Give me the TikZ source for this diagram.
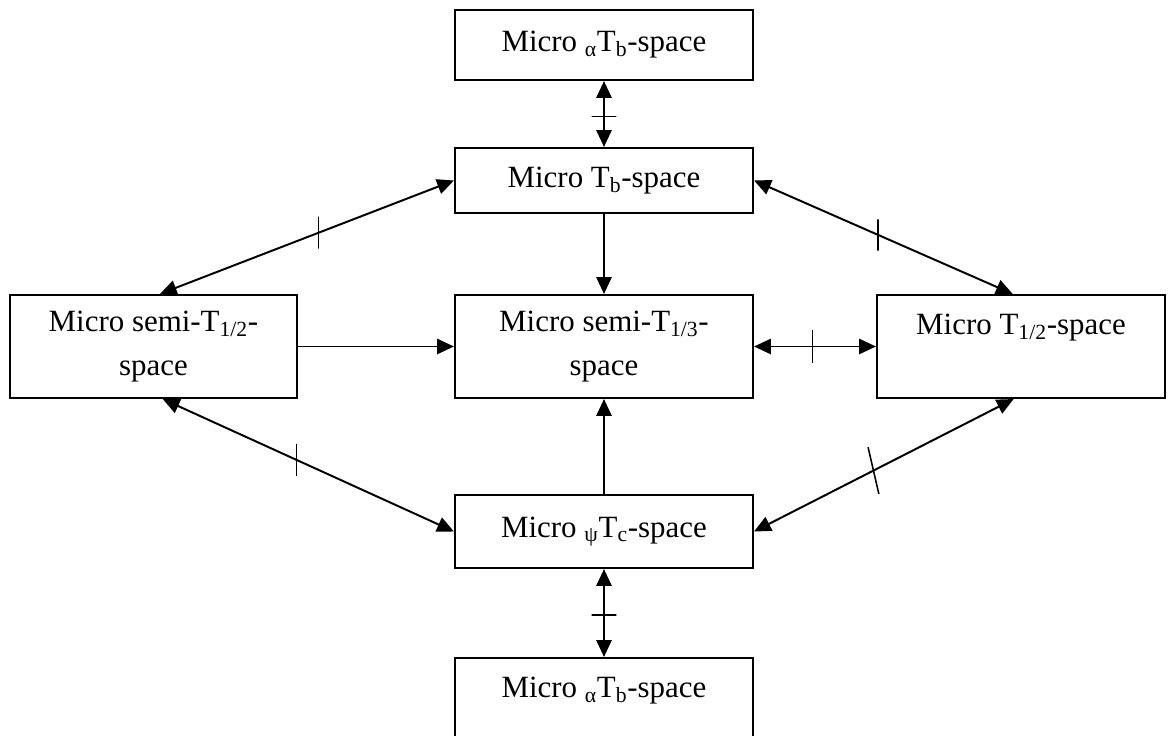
\documentclass[tikz,border=0pt]{standalone}
\usepackage{fontspec}
\setmainfont{Liberation Serif}
\usetikzlibrary{arrows.meta}

\begin{document}
\begin{tikzpicture}[font={\fontsize{22}{31}\selectfont},>={Triangle[length=4.2mm,width=3.8mm]},
  box/.style={draw,line width=1.5pt,align=center,inner sep=0pt,minimum width=7.45cm},
  conn/.style={line width=1.4pt},
  vtick/.style={draw,line width=1.1pt,inner sep=0pt,minimum width=0pt,minimum height=0.8cm},
  htick/.style={draw,line width=1.1pt,inner sep=0pt,minimum height=0pt,minimum width=0.62cm}]
  \useasboundingbox (0,0) rectangle (29.2,-18.4);
  \clip (0,0) rectangle (29.2,-18.4);

  % boxes
  \node[box,minimum height=1.75cm] (atb) at (15.1,-1.125)
    {Micro \textsubscript{α}T\textsubscript{b}-space};
  \node[box,minimum height=1.625cm] (tb) at (15.1,-4.5125)
    {Micro T\textsubscript{b}-space};
  \node[box,minimum width=7.175cm,minimum height=2.575cm] (semihalf) at (3.8375,-8.6625)
    {Micro semi-T\textsubscript{1/2}-\\space};
  \node[box,minimum height=2.575cm] (semithird) at (15.1,-8.6625)
    {Micro semi-T\textsubscript{1/3}-\\space};
  \node[box,minimum width=7.2cm,minimum height=2.575cm] (half) at (25.525,-8.6625)
    {Micro T\textsubscript{1/2}-space\\\mbox{}};
  \node[box,minimum height=1.825cm] (psitc) at (15.1,-13.2875)
    {Micro \textsubscript{ψ}T\textsubscript{c}-space};
  \node[box,minimum height=2.575cm] (atbb) at (15.1,-17.7375)
    {Micro \textsubscript{α}T\textsubscript{b}-space\\\mbox{}};

  % implications
  \draw[conn,->] (tb) -- (semithird);
  \draw[conn,->] (psitc) -- (semithird);
  \draw[conn,->] (semihalf) -- (semithird);

  % non-implications
  \draw[conn,<->] (atb) -- node[htick,pos=.54]{} (tb);
  \draw[conn,<->] (psitc) -- node[htick,pos=.52]{} (atbb);
  \draw[conn,<->] (semithird) -- node[vtick,pos=.48,minimum height=0.82cm]{} (half);
  \draw[conn,<->] (tb.west) -- node[vtick,pos=.46]{} (semihalf.83);
  \draw[conn,<->] (semihalf.-80) -- node[vtick,pos=.46]{} (psitc.west);
  \draw[conn,<->] (tb.east) -- node[vtick,pos=.48,minimum height=0.78cm]{} (half.99);
  \draw[conn,<->] (half.-98) -- node[vtick,pos=.54,rotate=13,minimum height=1.2cm]{} (psitc.east);
\end{tikzpicture}
\end{document}
